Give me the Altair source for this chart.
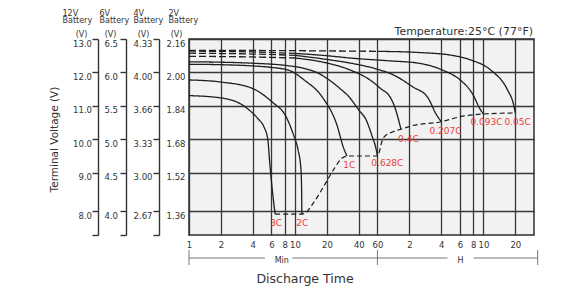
import json
import altair as alt
import pandas as pd

FONT = "DejaVu Sans"
INK = "#333333"

# ---------------- axis values ----------------
x_ticks = [1, 2, 4, 6, 8, 10, 20, 40, 60, 120, 240, 360, 480, 600, 1200]
x_tick_labels = ["1", "2", "4", "6", "8", "10", "20", "40", "60", "2", "4", "6", "8", "10", "20"]
x_max = 1800

y_ticks = [2.16, 2.00, 1.84, 1.68, 1.52, 1.36]
y_bottom = 1.245
lab_12v = ["13.0", "12.0", "11.0", "10.0", "9.0", "8.0"]
lab_6v = ["6.5", "6.0", "5.5", "5.0", "4.5", "4.0"]
lab_4v = ["4.33", "4.00", "3.66", "3.33", "3.00", "2.67"]
lab_2v = ["2.16", "2.00", "1.84", "1.68", "1.52", "1.36"]

# ---------------- discharge curves (minutes, V/cell) ----------------
t_3C = [1, 2, 3, 3.7, 4.5, 5.1, 5.55, 5.75, 6.1, 6.5]
v_3C = [1.889, 1.878, 1.852, 1.82, 1.777, 1.739, 1.677, 1.58, 1.45, 1.345]

t_2C = [1, 2, 3.9, 6.1, 8.26, 9.83, 10.7, 11.4, 11.55, 11.6]
v_2C = [1.964, 1.954, 1.925, 1.858, 1.787, 1.691, 1.629, 1.533, 1.448, 1.345]

t_1C = [1, 2, 4, 6, 8.8, 12.2, 18.1, 24.5, 29.2, 31]
v_1C = [2.039, 2.037, 2.031, 2.024, 2.010, 1.964, 1.882, 1.758, 1.629, 1.600]

t_0628C = [1, 2, 4, 8, 12, 16, 21, 27, 32.5, 40, 47, 53, 58.5, 60]
v_0628C = [2.051, 2.049, 2.044, 2.034, 2.020, 2.000, 1.964, 1.92, 1.882, 1.82, 1.772, 1.70, 1.629, 1.600]

t_04C_dash = [1, 4, 10]
v_04C_dash = [2.077, 2.074, 2.069]
t_04C = [10, 20, 33, 51, 65, 79, 88, 96.6, 100]
v_04C = [2.069, 2.045, 2.012, 1.964, 1.921, 1.882, 1.83, 1.758, 1.728]

t_0207C_dash = [1, 4, 10]
v_0207C_dash = [2.092, 2.088, 2.082]
t_0207C = [10, 20, 33, 60, 85, 130, 178, 215, 240]
v_0207C = [2.082, 2.062, 2.045, 2.015, 1.988, 1.93, 1.882, 1.80, 1.764]

t_0093C_dash = [1, 4, 10]
v_0093C_dash = [2.102, 2.098, 2.091]
t_0093C = [10, 20, 33, 80, 143, 250, 362, 470, 565, 600]
v_0093C = [2.091, 2.08, 2.069, 2.055, 2.045, 2.01, 1.964, 1.90, 1.82, 1.801]

t_005C_dash = [1, 10, 60]
v_005C_dash = [2.106, 2.104, 2.101]
t_005C = [60, 152, 293, 453, 700, 1013, 1150, 1200]
v_005C = [2.101, 2.095, 2.083, 2.06, 2.012, 1.916, 1.85, 1.806]

# end-of-discharge line
cut_t = [6.5, 11.6, 12.5, 14.9, 18.5, 23.0, 27.9, 31, 60, 68, 83, 100, 123, 240, 364, 600, 1200]
cut_v = [1.345, 1.345, 1.35, 1.393, 1.46, 1.533, 1.59, 1.60, 1.60, 1.686, 1.715, 1.728, 1.743, 1.764, 1.788, 1.801, 1.806]

# rate labels
rate_names = ["3C", "2C", "1C", "0.628C", "0.4C", "0.207C", "0.093C", "0.05C"]
rate_lab_t = [6.64, 11.7, 32.5, 74.4, 117.5, 263, 641, 1259]
rate_lab_v = [1.302, 1.302, 1.557, 1.566, 1.681, 1.72, 1.763, 1.763]

# time unit brackets
seg_t1 = [1, 9.4, 60, 483]
seg_t2 = [5.2, 60, 275, 1950]
brk_ticks = [1, 60, 1950]
unit_names = ["Min", "H"]
unit_t = [7.5, 364]

temp_text = "Temperature:25°C (77°F)"

# ---------------- build tables ----------------
rows = []


def add(name, style, ts, vs):
    for i, (t, v) in enumerate(zip(ts, vs)):
        rows.append({"key": name + style, "style": style, "i": i, "t": t, "v": v})


add("3C", "solid", t_3C, v_3C)
add("2C", "solid", t_2C, v_2C)
add("1C", "solid", t_1C, v_1C)
add("0.628C", "solid", t_0628C, v_0628C)
add("0.4C", "dash", t_04C_dash, v_04C_dash)
add("0.4C", "solid", t_04C, v_04C)
add("0.207C", "dash", t_0207C_dash, v_0207C_dash)
add("0.207C", "solid", t_0207C, v_0207C)
add("0.093C", "dash", t_0093C_dash, v_0093C_dash)
add("0.093C", "solid", t_0093C, v_0093C)
add("0.05C", "dash", t_005C_dash, v_005C_dash)
add("0.05C", "solid", t_005C, v_005C)
curves = pd.DataFrame(rows)

cut = pd.DataFrame({"t": cut_t, "v": cut_v, "i": list(range(len(cut_t)))})
labels = pd.DataFrame({"name": rate_names, "t": rate_lab_t, "v": rate_lab_v})
segs = pd.DataFrame({"t1": seg_t1, "t2": seg_t2})
bticks = pd.DataFrame({"t": brk_ticks})
units = pd.DataFrame({"name": unit_names, "t": unit_t})
temp = pd.DataFrame({"t": [x_max], "v": [y_ticks[0]], "label": [temp_text]})
tick_vals_all = y_ticks + [y_bottom]
tickdf = pd.DataFrame({"v": tick_vals_all})

W, H = 345, 196
xscale = alt.Scale(type="log", domain=[1, x_max], nice=False)
yscale = alt.Scale(domain=[y_bottom, 1.36, 1.52, 2.16], range=[H, 172, 133.7, 0], nice=False, zero=False)


def lab_expr(labs):
    return f"{json.dumps(labs + [''])}[indexof({json.dumps(tick_vals_all)}, datum.value)]"


x_lab_expr = f"{json.dumps(x_tick_labels)}[indexof({json.dumps(x_ticks)}, datum.value)]"

common_title = dict(titleFont=FONT, titleColor=INK, titleFontWeight="normal")
GRID = "#383838"

x_axis = alt.Axis(
    values=x_ticks, labelExpr=x_lab_expr, grid=True, gridColor=GRID, gridWidth=1.3,
    ticks=False, domain=False, labelPadding=5, labelFont=FONT, labelFontSize=8.5,
    labelColor=INK, labelFlush=False, labelOverlap=False, labelBaseline="top",
    title="Discharge Time", titleFontSize=12.5, titleX=115.5, titleY=43,
    titleAlign="center", titleBaseline="middle", **common_title,
)

main_y_axis = alt.Axis(
    orient="left", values=y_ticks, labelExpr=lab_expr(lab_2v), grid=True,
    gridColor=GRID, gridWidth=1.3, ticks=False, domain=False, labelPadding=4,
    labelBaseline="top", labelFont=FONT, labelFontSize=8.5, labelColor=INK,
    labelFlush=False, labelOverlap=False,
    title="(V)", titleAngle=0, titleX=-13, titleY=-9, titleAlign="center",
    titleBaseline="top", titleFontSize=8, **common_title,
)

X = lambda f: alt.X(f, scale=xscale)

curve_layer = alt.Chart(curves).mark_line(
    interpolate="monotone", strokeWidth=1.3, color="#1e1e1e"
).encode(
    x=alt.X("t:Q", scale=xscale, axis=x_axis),
    y=alt.Y("v:Q", scale=yscale, axis=main_y_axis),
    detail="key:N",
    order="i:Q",
    strokeDash=alt.StrokeDash(
        "style:N", scale=alt.Scale(domain=["solid", "dash"], range=[[1, 0], [7, 3]]), legend=None
    ),
)

cut_layer = alt.Chart(cut).mark_line(
    interpolate="monotone", strokeWidth=1.2, color="#1e1e1e", strokeDash=[5, 3]
).encode(
    x=X("t:Q"),
    y=alt.Y("v:Q", scale=yscale, axis=None),
    order="i:Q",
)

label_layer = alt.Chart(labels).mark_text(
    font=FONT, fontSize=9, color="#e8413b", align="center", baseline="middle"
).encode(
    x=X("t:Q"),
    y=alt.Y("v:Q", scale=yscale, axis=None),
    text="name:N",
)

temp_layer = alt.Chart(temp).mark_text(
    font=FONT, fontSize=11, color=INK, align="right", baseline="middle", dy=-7.5, dx=-1
).encode(
    x=X("t:Q"),
    y=alt.Y("v:Q", scale=yscale, axis=None),
    text="label:N",
)

seg_layer = alt.Chart(segs).mark_rule(color="#555555", strokeWidth=0.8).encode(
    x=X("t1:Q"), x2="t2:Q", y=alt.value(219)
)
btick_layer = alt.Chart(bticks).mark_rule(color="#555555", strokeWidth=0.8).encode(
    x=X("t:Q"), y=alt.value(211), y2=alt.value(226)
)
unit_layer = alt.Chart(units).mark_text(font=FONT, fontSize=8, color=INK, baseline="middle").encode(
    x=X("t:Q"), y=alt.value(222), text="name:N"
)


def axis_layer(axis):
    return alt.Chart(tickdf).mark_rule(opacity=0).encode(y=alt.Y("v:Q", scale=yscale, axis=axis))


def bracket_axis(labs, dom_x, pad, unit_c):
    off = 189 - dom_x
    return alt.Axis(
        orient="left", offset=off, values=tick_vals_all, labelExpr=lab_expr(labs),
        ticks=True, tickSize=6, tickWidth=1.4, tickColor="#333333", domain=True,
        domainColor="#333333", domainWidth=1.4, grid=False, labelPadding=pad,
        labelBaseline="top", labelFont=FONT, labelFontSize=8.5, labelColor=INK,
        labelFlush=False, labelOverlap=False,
        title="(V)", titleAngle=0, titleX=unit_c - dom_x, titleY=-9, titleAlign="center",
        titleBaseline="top", titleFontSize=8, **common_title,
    )


def header_axis(lines, dom_x, left_x):
    off = 189 - dom_x
    return alt.Axis(
        orient="left", offset=off, labels=False, ticks=False, domain=False, grid=False,
        title=lines, titleAngle=0, titleX=left_x - dom_x, titleY=-30, titleAlign="left",
        titleBaseline="top", titleLineHeight=7.5, titleFontSize=8, **common_title,
    )


ax_layers = [
    axis_layer(bracket_axis(lab_12v, 98, 0.5, 81)),
    axis_layer(bracket_axis(lab_6v, 126, 2.5, 110)),
    axis_layer(bracket_axis(lab_4v, 159, 1, 143)),
    axis_layer(header_axis(["12V", "Battery"], 98, 62)),
    axis_layer(header_axis(["6V", "Battery"], 126, 99)),
    axis_layer(header_axis(["4V", "Battery"], 159, 133)),
    axis_layer(header_axis(["2V", "Battery"], 189, 168)),
    axis_layer(alt.Axis(
        orient="left", offset=0, labels=False, ticks=False, domain=False, grid=False,
        title="Terminal Voltage (V)", titleAngle=270, titleX=-135, titleY=100,
        titleAlign="center", titleBaseline="middle", titleFontSize=10.5, **common_title,
    )),
]

chart = alt.layer(
    curve_layer, cut_layer, label_layer, temp_layer, seg_layer, btick_layer, unit_layer, *ax_layers
).resolve_axis(y="independent").properties(
    width=W, height=H,
    padding={"left": 181, "top": 31, "right": 30, "bottom": 53},
    autosize=alt.AutoSizeParams(type="none"),
    background="white",
).configure_view(fill="#f2f2f2", stroke="#2e2e2e", strokeWidth=1.5)

chart.save("out.html", embed_options={"renderer": "svg", "actions": False})
